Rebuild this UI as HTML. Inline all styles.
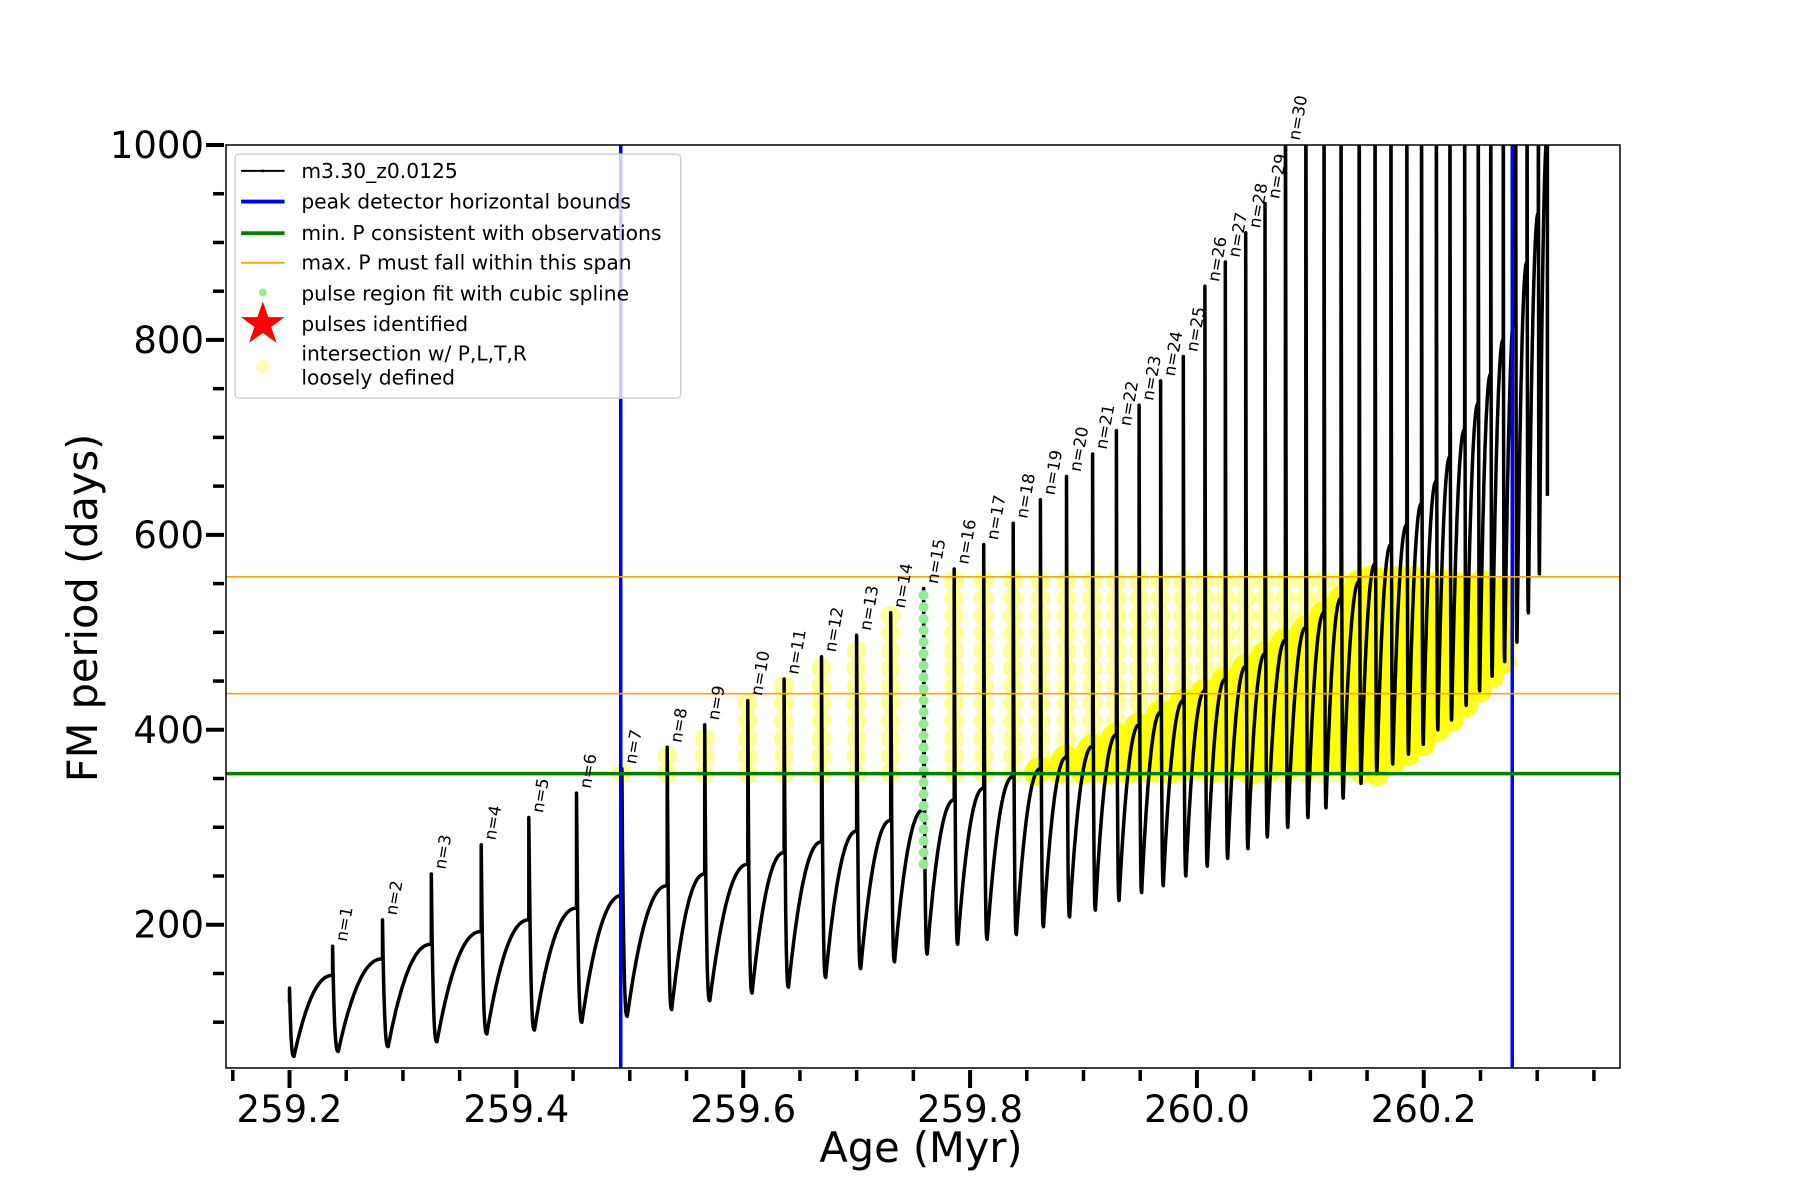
<!DOCTYPE html>
<html><head><meta charset="utf-8"><style>
html,body{margin:0;padding:0;background:#fff;}
svg{display:block;font-family:"DejaVu Sans","Liberation Sans",sans-serif;}
</style></head><body>
<svg id="chart" width="1800" height="1200" viewBox="0 0 1800 1200" xmlns="http://www.w3.org/2000/svg">
<defs><clipPath id="plotclip"><rect x="226" y="145" width="1394" height="923"/></clipPath></defs>
<rect x="0" y="0" width="1800" height="1200" fill="#fff"/>
<g id="plot" clip-path="url(#plotclip)"></g>
<g id="axes"></g>
<g id="legend" transform="scale(0.988)">
  <rect x="238" y="156" width="451" height="247" rx="4" fill="#fff" fill-opacity="0.8" stroke="#d0d0d0" stroke-width="1.5"/>
  <g><line x1="244" y1="173" x2="288" y2="173" stroke="#000" stroke-width="2"/><circle cx="266" cy="173" r="1.5" fill="#000"/><text x="305" y="180" font-size="20.5">m3.30_z0.0125</text></g>
  <g><line x1="244" y1="204" x2="288" y2="204" stroke="#0000ff" stroke-width="4"/><text x="305" y="211" font-size="20.5">peak detector horizontal bounds</text></g>
  <g><line x1="244" y1="236" x2="288" y2="236" stroke="#008000" stroke-width="4"/><text x="305" y="243" font-size="20.5">min. P consistent with observations</text></g>
  <g><line x1="244" y1="266" x2="288" y2="266" stroke="#ffa500" stroke-width="2"/><text x="305" y="273" font-size="20.5">max. P must fall within this span</text></g>
  <g><circle cx="266" cy="296" r="4" fill="#90ee90"/><text x="305" y="304" font-size="20.5">pulse region fit with cubic spline</text></g>
  <g><polygon points="266,305 271.5,321 288,321 274.5,331 280,347 266,337 252,347 257.5,331 244,321 260.5,321" fill="#ff0000"/><text x="305" y="335" font-size="20.5">pulses identified</text></g>
  <g><circle cx="266" cy="371" r="7" fill="#ffff99" fill-opacity="0.7"/><text x="305" y="365" font-size="20.5">intersection w/ P,L,T,R</text><text x="305" y="389" font-size="20.5">loosely defined</text></g>
</g>
</svg>
<script>
// ---- data ----
var pulseAges = [259.238,259.282,259.325,259.369,259.411,259.453,259.493,259.533,259.566,259.604,259.636,259.669,259.700,259.730,259.759,259.786,259.812,259.838,259.862,259.885,259.908,259.929,259.949,259.968,259.988,260.007,260.025,260.043,260.060,260.078,260.096,260.112,260.127,260.143,260.157,260.171,260.185,260.198,260.211,260.223,260.236,260.248,260.259,260.270,260.281,260.291,260.301];
var prePeriods = [148,165,180,193,205,217,230,240,252,262,274,285,296,307,318,328,340,352,360,372,383,395,405,418,430,440,452,465,478,492,505,520,535,552,570,590,610,632,655,680,708,735,765,800,840,880,930];
var peakPeriods = [178,205,252,282,310,335,360,382,405,430,452,475,497,520,545,565,590,612,636,660,683,707,733,758,783,855,880,910,940,1200,1200,1200,1200,1200,1200,1200,1200,1200,1200,1200,1200,1200,1200,1200,1200,1200,1200];
var troughPeriods = [70,75,80,88,92,100,106,113,122,130,136,146,155,162,170,180,185,190,198,208,215,225,233,240,250,260,268,278,290,300,310,320,330,345,355,365,375,385,400,410,425,440,455,470,490,520,560];
var pulseLabels = ["n=1","n=2","n=3","n=4","n=5","n=6","n=7","n=8","n=9","n=10","n=11","n=12","n=13","n=14","n=15","n=16","n=17","n=18","n=19","n=20","n=21","n=22","n=23","n=24","n=25","n=26","n=27","n=28","n=29","n=30"];
var startAge = 259.200, startPeriod = 135, startTrough = 65;
var endAge = 260.309, endPeriod = 1010, endDrop = 640;
var peakBounds = [259.492, 260.278];
var minPeriod = 355;
var maxPeriodSpan = [437, 557];
var splinePulseIndex = 14;
var splineRange = [262, 545];
var xTicksMajor = [259.2,259.4,259.6,259.8,260.0,260.2];
var xTickLabels = ["259.2","259.4","259.6","259.8","260.0","260.2"];
var yTicksMajor = [200,400,600,800,1000];
var yTickLabels = ["200","400","600","800","1000"];

// ---- axes ----
var X0=226,X1=1620,Y0=145,Y1=1068, AMIN=259.144, AMAX=260.373, PMIN=53, PMAX=1000;
function xs(a){return X0+(a-AMIN)/(AMAX-AMIN)*(X1-X0);}
function ys(p){return Y0+(PMAX-p)/(PMAX-PMIN)*(Y1-Y0);}
var NS="http://www.w3.org/2000/svg";
function mk(tag,attrs,parent){var e=document.createElementNS(NS,tag);for(var k in attrs)e.setAttribute(k,attrs[k]);parent.appendChild(e);return e;}
var plot=document.getElementById('plot'), axes=document.getElementById('axes');

var pts=[]; var risePts=[];
function seg(a0,a1,v0,v1,shape,n,collect){for(var i=0;i<=n;i++){var u=i/n;var f=shape(u);var a=a0+(a1-a0)*u;var v=v0+(v1-v0)*f;pts.push([a,v]);if(collect)risePts.push([a,v]);}}
var rise=function(u){return 1-Math.pow(1-u,2.2);};
var fall=function(u){return 1-Math.pow(1-u,3);};
pts.push([startAge,120]);pts.push([startAge,startPeriod]);
seg(startAge,startAge+0.004,startPeriod,startTrough,fall,6,false);
seg(startAge+0.004,pulseAges[0],startTrough,prePeriods[0],rise,40,true);
for(var i=0;i<pulseAges.length;i++){
  var t=pulseAges[i];
  var next = i+1<pulseAges.length ? pulseAges[i+1] : endAge;
  var gap=next-t, dd=Math.min(0.12*gap,0.005);
  pts.push([t,peakPeriods[i]]);
  seg(t,t+dd,peakPeriods[i],troughPeriods[i],fall,8,false);
  var target = i+1<pulseAges.length ? prePeriods[i+1] : endPeriod;
  seg(t+dd,next,troughPeriods[i],target,rise,40,true);
}
pts.push([endAge,endPeriod]);pts.push([endAge,endDrop]);

var yg=mk('g',{},plot);


pulseAges.forEach(function(t,i){
  if(t<peakBounds[0]-0.002||t>peakBounds[1]||i===splinePulseIndex)return;
  var top=Math.min(peakPeriods[i],maxPeriodSpan[1]);
  for(var v=Math.max(minPeriod,troughPeriods[i]+20);v<=top;v+=18){
    var c=mk('circle',{cx:xs(t),cy:ys(v),r:10,fill:'#ffff55','fill-opacity':0.6},yg);
    
    
  }
});
risePts.forEach(function(p){
  if(p[1]>=minPeriod&&p[1]<=maxPeriodSpan[1]&&p[0]>=peakBounds[0]-0.002&&p[0]<=peakBounds[1]){
    var c=mk('circle',{cx:xs(p[0]),cy:ys(p[1]),r:12,fill:'#ffff00','fill-opacity':0.85},yg);
    
    
  }
});

var d='';pts.forEach(function(p,k){d+=(k?'L':'M')+xs(p[0]).toFixed(1)+','+ys(p[1]).toFixed(1);});
var line=mk('path',{d:d,fill:'none',stroke:'#000','stroke-width':3.5,'stroke-linejoin':'round'},plot);



var gt=pulseAges[splinePulseIndex];
for(var v=splineRange[0];v<=splineRange[1];v+=12){
  var c=mk('circle',{cx:xs(gt),cy:ys(v),r:5,fill:'#90ee90'},plot);
  
  
}

peakBounds.forEach(function(a,i){
  var l=mk('line',{x1:xs(a),x2:xs(a),y1:Y0,y2:Y1,stroke:'#0000ff','stroke-width':3.5},plot);
  
  
});
var gl=mk('line',{x1:X0,x2:X1,y1:ys(minPeriod),y2:ys(minPeriod),stroke:'#008000','stroke-width':3.5},plot);


maxPeriodSpan.forEach(function(p,i){
  var l=mk('line',{x1:X0,x2:X1,y1:ys(p),y2:ys(p),stroke:'#ffa500','stroke-width':1.6},plot);
  
  
});

pulseLabels.forEach(function(s,i){
  var px=xs(pulseAges[i])+14, py=ys(Math.min(peakPeriods[i],1000))-4;
  var t=mk('text',{x:px,y:py,'font-size':16.5,transform:'rotate(-80 '+px+' '+py+')'},axes);
  t.textContent=s;
  
  
});

var fr=mk('rect',{x:X0,y:Y0,width:X1-X0,height:Y1-Y0,fill:'none',stroke:'#000','stroke-width':1.5},axes);



for(var k=0;k<=24;k++){
  var a=259.15+k*0.05; if(a>AMAX)break;
  var maj=Math.abs(Math.round(a*5)-a*5)<1e-6;
  var tl=mk('line',{x1:xs(a),x2:xs(a),y1:Y1+2,y2:Y1+(maj?20:13),stroke:'#000','stroke-width':maj?4:3.5},axes);
  
  
}
xTicksMajor.forEach(function(a,i){
  var t=mk('text',{x:xs(a),y:1122,'font-size':37,'text-anchor':'middle'},axes);
  t.textContent=xTickLabels[i];
  
  
});
for(var p=100;p<=1000;p+=50){
  var majy=p%200===0;
  var tly=mk('line',{x1:X0-2,x2:X0-(majy?20:13),y1:ys(p),y2:ys(p),stroke:'#000','stroke-width':majy?4:3.5},axes);
  
  
}
yTicksMajor.forEach(function(p,i){
  var t=mk('text',{x:204,y:ys(p)+13,'font-size':37,'text-anchor':'end'},axes);
  t.textContent=yTickLabels[i];
  
  
});
var xt=mk('text',{x:921,y:1162,'font-size':41.5,'text-anchor':'middle'},axes);
xt.textContent='Age (Myr)';


var yt=mk('text',{x:97,y:608,'font-size':41.5,'text-anchor':'middle',transform:'rotate(-90 97 608)'},axes);
yt.textContent='FM period (days)';


</script>
</body></html>
